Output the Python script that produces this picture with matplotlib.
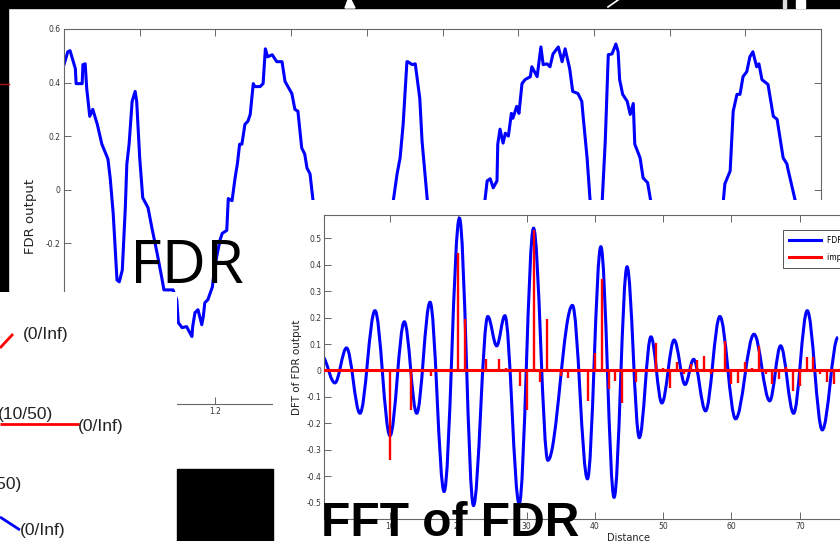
import matplotlib
matplotlib.use('Agg')
import matplotlib.pyplot as plt
from matplotlib.patches import Rectangle, Polygon, PathPatch
from matplotlib.path import Path
from matplotlib.lines import Line2D
from matplotlib.ticker import FuncFormatter

plt.rcParams['axes.unicode_minus'] = False
plt.rcParams['font.family'] = ['DejaVu Sans']

W, H = 840, 541

# ---------------- data ----------------
# FDR output (top panel), x in [1, 2]
fdr_x = [1.000, 1.005, 1.008, 1.015, 1.016, 1.024, 1.025, 1.028, 1.030, 1.034, 1.038, 1.044,
         1.050, 1.058, 1.061, 1.065, 1.070, 1.073, 1.077, 1.081, 1.083, 1.086, 1.090, 1.094,
         1.096, 1.100, 1.104, 1.111, 1.116, 1.123, 1.129, 1.132, 1.144, 1.149, 1.151, 1.156,
         1.162, 1.166, 1.169, 1.170, 1.173, 1.177, 1.182, 1.184, 1.186, 1.190, 1.196, 1.199,
         1.206, 1.209, 1.215, 1.217, 1.222, 1.226, 1.229, 1.232, 1.235, 1.239, 1.243, 1.246,
         1.250, 1.252, 1.259, 1.263, 1.266, 1.269, 1.275, 1.281, 1.288, 1.292, 1.301, 1.305,
         1.309, 1.314, 1.318, 1.321, 1.325, 1.329, 1.382, 1.435, 1.440, 1.444, 1.448, 1.453,
         1.454, 1.460, 1.464, 1.470, 1.473, 1.480, 1.518, 1.556, 1.559, 1.563, 1.567, 1.572,
         1.573, 1.576, 1.580, 1.583, 1.587, 1.591, 1.593, 1.598, 1.601, 1.605, 1.609, 1.616,
         1.618, 1.625, 1.630, 1.633, 1.638, 1.642, 1.646, 1.653, 1.658, 1.662, 1.668, 1.672,
         1.679, 1.684, 1.686, 1.691, 1.695, 1.703, 1.711, 1.715, 1.719, 1.724, 1.729, 1.732,
         1.734, 1.738, 1.744, 1.748, 1.752, 1.754, 1.761, 1.765, 1.771, 1.775, 1.823, 1.871,
         1.873, 1.880, 1.884, 1.889, 1.893, 1.897, 1.902, 1.906, 1.910, 1.915, 1.918, 1.922,
         1.930, 1.937, 1.942, 1.950, 1.955, 1.956, 1.962, 1.966, 1.990]
fdr_y = [0.467, 0.515, 0.519, 0.452, 0.396, 0.396, 0.467, 0.470, 0.378, 0.274, 0.300, 0.244,
         0.170, 0.115, 0.044, -0.089, -0.337, -0.344, -0.300, -0.067, 0.096, 0.170, 0.330, 0.367,
         0.330, 0.119, -0.030, -0.067, -0.141, -0.237, -0.326, -0.374, -0.374, -0.411, -0.496, -0.515,
         -0.511, -0.533, -0.548, -0.511, -0.459, -0.448, -0.504, -0.474, -0.422, -0.411, -0.363, -0.289,
         -0.189, -0.163, -0.152, -0.033, -0.041, 0.044, 0.096, 0.170, 0.170, 0.244, 0.256, 0.281,
         0.396, 0.385, 0.385, 0.396, 0.526, 0.496, 0.504, 0.478, 0.478, 0.404, 0.359, 0.300,
         0.293, 0.156, 0.133, 0.081, 0.059, -0.041, -0.450, -0.041, 0.059, 0.119, 0.244, 0.478,
         0.478, 0.467, 0.470, 0.341, 0.181, -0.041, -0.450, -0.041, 0.033, 0.041, 0.007, 0.033,
         0.170, 0.226, 0.174, 0.211, 0.200, 0.285, 0.267, 0.311, 0.285, 0.396, 0.411, 0.422,
         0.459, 0.422, 0.533, 0.467, 0.470, 0.459, 0.507, 0.533, 0.478, 0.526, 0.452, 0.367,
         0.359, 0.330, 0.267, 0.119, -0.041, -0.200, -0.041, 0.181, 0.504, 0.507, 0.544, 0.515,
         0.411, 0.356, 0.330, 0.281, 0.322, 0.170, 0.119, 0.044, 0.026, -0.041, -0.450, -0.041,
         0.022, 0.070, 0.293, 0.356, 0.356, 0.422, 0.441, 0.496, 0.515, 0.459, 0.470, 0.411,
         0.393, 0.274, 0.263, 0.119, 0.096, 0.081, 0.007, -0.041, -0.350]
fdr_xticks = [1.0, 1.1, 1.2, 1.3, 1.4, 1.5, 1.6, 1.7, 1.8, 1.9, 2.0]
fdr_yticks = [-0.8, -0.6, -0.4, -0.2, 0.0, 0.2, 0.4, 0.6]

# DFT of FDR output: turning points of the smooth blue curve
dft_x = [0.34, 1.9, 3.6, 5.57, 7.77, 9.97, 12.07, 13.88, 15.84, 17.9, 20.14, 22.2, 24.3,
         25.6, 26.8, 28.9, 31.0, 33.1, 36.7, 38.9, 40.86, 42.8, 44.7, 46.5, 48.2, 49.8,
         51.6, 53.2, 54.45, 56.2, 58.3, 60.6, 63.3, 65.6, 67.2, 69.1, 71.1, 73.3, 75.6]
dft_y = [0.048, -0.047, 0.085, -0.162, 0.226, -0.247, 0.184, -0.162, 0.258, -0.458, 0.576,
         -0.511, 0.204, 0.093, 0.207, -0.505, 0.538, -0.340, 0.246, -0.410, 0.468, -0.480,
         0.392, -0.254, 0.127, -0.123, 0.115, -0.053, 0.042, -0.153, 0.204, -0.183, 0.137,
         -0.115, 0.093, -0.162, 0.226, -0.225, 0.125]
# impulse response stems
imp_x = [10, 13, 16, 20, 21, 24, 26, 27, 29, 30, 31, 32, 33, 35, 36, 39, 40, 41, 42, 43, 44,
         46, 49, 50, 51, 52, 53, 54, 55, 56, 57, 58, 59, 60, 61, 62, 63, 64, 65, 66, 67, 68,
         69, 70, 71, 72, 73, 74, 75, 76]
imp_y = [-0.34, -0.15, -0.02, 0.445, 0.195, 0.045, 0.045, 0.008, -0.06, -0.15, 0.53, -0.045,
         0.195, -0.02, -0.03, -0.115, 0.065, 0.345, -0.07, -0.04, -0.125, -0.045, 0.105, 0.01,
         -0.065, 0.033, -0.015, 0.023, 0.04, 0.055, -0.015, 0.006, 0.11, -0.053, -0.047, 0.033,
         0.01, 0.093, -0.015, -0.05, -0.034, 0.013, -0.076, -0.06, 0.05, 0.05, -0.013, -0.043,
         -0.053, 0.01]
dft_xticks = [10, 20, 30, 40, 50, 60, 70]
dft_yticks = [-0.5, -0.4, -0.3, -0.2, -0.1, 0.0, 0.1, 0.2, 0.3, 0.4, 0.5]
legend_labels = ['FDR output', 'impulse response']

# tree-diagram fragment (bottom left), local pixel coordinates of its box
tree_branches = [((0, 13), (56, 42), 'red'), ((0, 79), (132, 132), 'red'), ((0, 20), (225, 238), 'blue')]
tree_labels = [(23, 43, '(0/Inf)', 'left'), (53, 123, '(10/50)', 'right'),
               (78, 134, '(0/Inf)', 'left'), (22, 192, '(10/50)', 'right'),
               (20, 238, '(0/Inf)', 'left')]


def fbox(x0, y0, x1, y1):
    return [x0 / W, 1 - y1 / H, (x1 - x0) / W, (y1 - y0) / H]


def fmt(v, pos):
    return '0' if abs(v) < 1e-9 else '%g' % v


fig = plt.figure(figsize=(W / 100, H / 100), dpi=100)
fig.patch.set_facecolor('white')

# slide background bits
fig.add_artist(Rectangle((0, 1 - 8 / H), 1, 8 / H, transform=fig.transFigure, color='black', zorder=0))
fig.add_artist(Rectangle((0, 1 - 292 / H), 8 / W, 292 / H, transform=fig.transFigure, color='black', zorder=0))
fig.add_artist(Rectangle((783 / W, 1 - 8 / H), 3 / W, 8 / H, transform=fig.transFigure, color='#dddddd', zorder=0.1))
fig.add_artist(Rectangle((796 / W, 1 - 8 / H), 9 / W, 8 / H, transform=fig.transFigure, color='white', zorder=0.1))
fig.add_artist(Polygon([(345 / W, 1 - 8 / H), (348 / W, 1.0), (351 / W, 1.0), (355 / W, 1 - 8 / H)],
                       closed=True, transform=fig.transFigure, color='white', zorder=0.1))
fig.add_artist(Line2D([608 / W, 618 / W], [1 - 7 / H, 1.0], transform=fig.transFigure, color='white', lw=1.2, zorder=0.1))
fig.add_artist(Line2D([0, 9 / W], [1 - 84 / H, 1 - 84 / H], transform=fig.transFigure, color='#b01010', lw=1.0, zorder=0.2))

spine_c = '#666666'
lab_c = '#333333'

# ---------------- top FDR panel ----------------
ax1 = fig.add_axes(fbox(64, 29, 821, 404), zorder=1)
ax1.plot(fdr_x, fdr_y, color='#0000ff', lw=2.2, solid_joinstyle='round')
ax1.set_xlim(1.0, 2.0)
ax1.set_ylim(-0.8, 0.6)
ax1.set_xticks(fdr_xticks)
ax1.set_yticks(fdr_yticks)
ax1.xaxis.set_major_formatter(FuncFormatter(fmt))
ax1.yaxis.set_major_formatter(FuncFormatter(fmt))
ax1.tick_params(direction='in', top=True, right=True, length=5, width=0.7, color=spine_c,
                labelsize=5.5, labelcolor=lab_c, pad=2.5)
for s in ax1.spines.values():
    s.set_color(spine_c)
    s.set_linewidth(0.8)
ax1.set_ylabel('FDR output', fontsize=9.5, color='#222222')
ax1.yaxis.set_label_coords((37 - 64) / 757, 0.5)

# ---------------- tree fragment ----------------
fig.add_artist(Rectangle((0, 0), 177 / W, (H - 292) / H, transform=fig.transFigure,
                         facecolor='white', edgecolor='none', zorder=1.5))
axt = fig.add_axes(fbox(0, 292, 177, 541), zorder=2)
axt.set_xlim(0, 177)
axt.set_ylim(249, 0)
axt.axis('off')
for xs, ys, c in tree_branches:
    axt.plot(xs, ys, color=c, lw=2.0, solid_capstyle='butt')
for x, y, t, ha in tree_labels:
    axt.text(x, y, t, ha=ha, va='center', fontsize=12.5, color='#222222',
             family=['Liberation Sans', 'DejaVu Sans'])

# ---------------- FFT panel ----------------
fig.add_artist(Rectangle((273 / W, 0), (W - 273) / W, (H - 200) / H, transform=fig.transFigure,
                         facecolor='white', edgecolor='none', zorder=3))
ax2 = fig.add_axes(fbox(324, 215, 868, 519), zorder=4)
ax2.set_xlim(0.3, 80)
ax2.set_ylim(-0.562, 0.588)

verts = [(dft_x[0], dft_y[0])]
codes = [Path.MOVETO]
for i in range(len(dft_x) - 1):
    x0, y0, x1, y1 = dft_x[i], dft_y[i], dft_x[i + 1], dft_y[i + 1]
    d = (x1 - x0) * 0.36
    c1y = y0 + (y1 - y0) * 0.35 if i == 0 else y0
    verts += [(x0 + d, c1y), (x1 - d, y1), (x1, y1)]
    codes += [Path.CURVE4] * 3
ax2.add_patch(PathPatch(Path(verts, codes), facecolor='none', edgecolor='#0000ff', lw=2.2, zorder=2))
ax2.axhline(0, color='#ff0000', lw=2.2, zorder=3)
ax2.vlines(imp_x, 0, imp_y, color='#ff0000', lw=1.7, zorder=3)

ax2.set_xticks(dft_xticks)
ax2.set_yticks(dft_yticks)
ax2.xaxis.set_major_formatter(FuncFormatter(fmt))
ax2.yaxis.set_major_formatter(FuncFormatter(fmt))
ax2.tick_params(direction='in', top=True, right=True, length=5, width=0.7, color=spine_c,
                labelsize=5.5, labelcolor=lab_c, pad=2)
for s in ax2.spines.values():
    s.set_color(spine_c)
    s.set_linewidth(0.8)
ax2.set_ylabel('DFT of FDR output', fontsize=7.5, color='#222222')
ax2.yaxis.set_label_coords((302 - 324) / 544, 0.5)
ax2.set_xlabel('Distance', fontsize=7, color='#222222')
ax2.xaxis.set_label_coords((628 - 324) / 544, -(533 - 519) / 304)

handles = [Line2D([], [], color='#0000ff', lw=2.2), Line2D([], [], color='#ff0000', lw=2.2)]
leg = ax2.legend(handles, legend_labels, loc='upper left', bbox_to_anchor=(783 / W, 1 - 230 / H),
                 bbox_transform=fig.transFigure, borderaxespad=0, fontsize=5.5, handlelength=4.2,
                 fancybox=False, framealpha=1, edgecolor='#555555', labelspacing=1.0,
                 borderpad=0.8, handletextpad=0.7)
leg.get_frame().set_linewidth(0.7)

# black block
fig.add_artist(Rectangle((177 / W, 0), 96 / W, (H - 469) / H, transform=fig.transFigure,
                         color='black', zorder=5))

# slide captions
fig.text(130 / W, 1 - 283 / H, 'FDR', fontsize=44, family=['Open Sans', 'DejaVu Sans'],
         color='black', ha='left', va='baseline', zorder=6)
fig.text(321 / W, 1 - 536 / H, 'FFT of FDR', fontsize=34.5, weight='bold',
         family=['Liberation Sans', 'DejaVu Sans'], color='black', ha='left', va='baseline', zorder=6)

fig.savefig('out.png', dpi=100)
